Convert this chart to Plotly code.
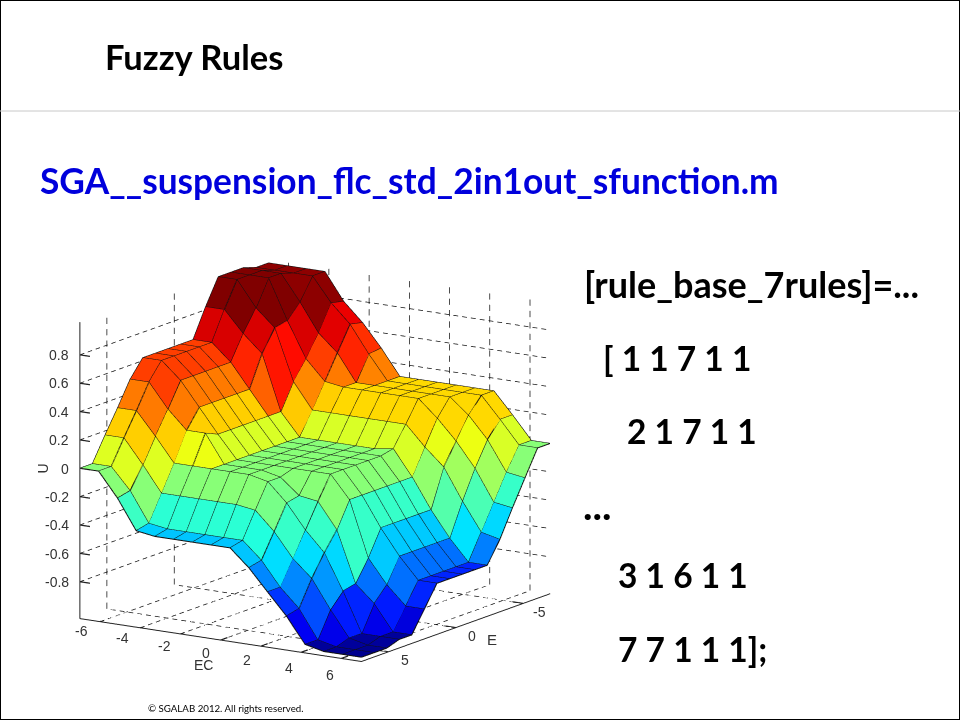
import plotly.graph_objects as go

EC = [-7.0, -6.07, -5.13, -4.2, -3.27, -2.33, -1.4, -0.47, 0.47, 1.4, 2.33, 3.27, 4.2, 5.13, 6.07, 7.0]
E = [7.0, 6.07, 5.13, 4.2, 3.27, 2.33, 1.4, 0.47, -0.47, -1.4, -2.33, -3.27, -4.2, -5.13, -6.07, -7.0]
U_0 = [0, 0, -.17, -.38, -.4, -.4, -.4, -.4, -.4, -.52, -.67, -.82, -1, -1.03, -1.03, -1.03]
U_1 = [0, 0, -.15, -.36, -.38, -.38, -.38, -.38, -.38, -.5, -.67, -.8, -1, -1.03, -1.03, -1.03]
U_2 = [.17, .17, 0, -.18, -.18, -.18, -.18, -.18, -.2, -.33, -.5, -.62, -.82, -1, -1.03, -1.03]
U_3 = [.33, .33, .17, 0, 0, 0, 0, 0, -.03, -.16, -.33, -.47, -.72, -1, -1, -1]
U_4 = [.5, .5, .33, .2, .2, 0, 0, 0, -.03, -.14, -.16, -.34, -.7, -.82, -1, -1]
U_5 = [.62, .62, .5, .33, .16, 0, 0, 0, 0, 0, 0, -.16, -.55, -.72, -.85, -.85]
U_6 = [.62, .62, .5, .33, .16, 0, 0, 0, 0, 0, 0, -.16, -.37, -.55, -.7, -.7]
U_7 = [.62, .62, .5, .33, .16, 0, 0, 0, 0, 0, 0, -.16, -.37, -.55, -.7, -.7]
U_8 = [.62, .62, .5, .33, .16, 0, 0, 0, 0, 0, 0, -.16, -.37, -.55, -.7, -.7]
U_9 = [.62, .62, .5, .33, .16, 0, 0, 0, 0, 0, 0, -.16, -.37, -.55, -.7, -.7]
U_10 = [.82, .82, .67, .55, .16, 0, 0, 0, 0, 0, .02, -.16, -.37, -.55, -.7, -.7]
U_11 = [1, 1, .82, .7, .34, .16, .16, .16, .16, .16, .16, .02, -.1, -.32, -.52, -.55]
U_12 = [1, 1, 1, .72, .47, .33, .31, .31, .31, .31, .31, .19, .05, -.12, -.34, -.36]
U_13 = [1, 1, 1, .82, .62, .5, .31, .31, .31, .31, .31, .31, .2, .05, -.16, -.18]
U_14 = [.97, .97, .97, .97, .8, .67, .48, .31, .31, .31, .31, .31, .31, .16, 0, 0]
U_15 = [.97, .97, .97, .97, .78, .65, .49, .31, .31, .31, .31, .31, .31, .16, 0, 0]
U = [U_0, U_1, U_2, U_3, U_4, U_5, U_6, U_7, U_8, U_9, U_10, U_11, U_12, U_13, U_14, U_15]

EC_TICKS = [-6, -4, -2, 0, 2, 4, 6]
E_TICKS = [5, 0, -5]
U_TICKS = [-0.8, -0.6, -0.4, -0.2, 0, 0.2, 0.4, 0.6, 0.8]
U_LABELS = ["-0.8", "-0.6", "-0.4", "-0.2", "0", "0.2", "0.4", "0.6", "0.8"]
RIGHT_TEXT = ["[rule_base_7rules]=...", "[ 1 1 7 1 1", "2 1 7 1 1", "...", "3 1 6 1 1", "7 7 1 1 1];"]
RIGHT_X = [582, 601, 625, 581, 616, 616]
RIGHT_Y = [284, 358, 431, 505, 575, 649]
RIGHT_SIZE = [36, 33.5, 33.5, 40, 33.5, 33.5]

JET = [[0, "rgb(0,0,143)"], [.125, "rgb(0,0,255)"], [.375, "rgb(0,255,255)"],
       [.625, "rgb(255,255,0)"], [.875, "rgb(255,0,0)"], [1, "rgb(128,0,0)"]]

n, m = len(E), len(EC)
xs, ys, zs, ti, tj, tk, inten = [], [], [], [], [], [], []
for j in range(n):
    for i in range(m):
        xs.append(EC[i]); ys.append(-E[j]); zs.append(U[j][i])
for j in range(n - 1):
    for i in range(m - 1):
        a = j * m + i
        b = a + 1
        c = a + m
        d = c + 1
        val = U[j + 1][i]
        ti += [a, a]; tj += [b, d]; tk += [d, c]; inten += [val, val]

fig = go.Figure()
fig.add_trace(go.Mesh3d(x=xs, y=ys, z=zs, i=ti, j=tj, k=tk, intensity=inten, intensitymode="cell",
                        colorscale=JET, cmin=-1.03, cmax=1, showscale=False, flatshading=True,
                        lighting=dict(ambient=1, diffuse=0, specular=0, fresnel=0), hoverinfo="skip"))

lx, ly, lz = [], [], []
for j in range(n):
    for i in range(m):
        lx.append(EC[i]); ly.append(-E[j]); lz.append(U[j][i])
    lx.append(None); ly.append(None); lz.append(None)
for i in range(m):
    for j in range(n):
        lx.append(EC[i]); ly.append(-E[j]); lz.append(U[j][i])
    lx.append(None); ly.append(None); lz.append(None)
fig.add_trace(go.Scatter3d(x=lx, y=ly, z=lz, mode="lines", line=dict(color="#111", width=2), hoverinfo="skip"))

xmin, xmax, ymin, ymax, zmin, zmax = EC[0], EC[-1], -E[0], -E[-1], -1.06, 1.03
gx, gy, gz = [], [], []

def dashed(p, q, dashes):
    for k in range(dashes):
        for t in (k / dashes, (k + .55) / dashes):
            gx.append(p[0] + (q[0] - p[0]) * t); gy.append(p[1] + (q[1] - p[1]) * t); gz.append(p[2] + (q[2] - p[2]) * t)
        gx.append(None); gy.append(None); gz.append(None)

for v in EC_TICKS:
    dashed((v, ymin, zmin), (v, ymax, zmin), 24)
    dashed((v, ymax, zmin), (v, ymax, zmax), 26)
for v in E_TICKS:
    dashed((xmax, -v, zmin), (xmin, -v, zmin), 32)
    dashed((xmin, -v, zmin), (xmin, -v, zmax), 26)
for v in U_TICKS:
    dashed((xmin, ymin, v), (xmin, ymax, v), 24)
    dashed((xmin, ymax, v), (xmax, ymax, v), 32)
fig.add_trace(go.Scatter3d(x=gx, y=gy, z=gz, mode="lines", line=dict(color="#111", width=1.5), hoverinfo="skip"))

tx, ty, tz = [], [], []
for v in U_TICKS:
    tx += [xmin, xmin + .5, None]; ty += [ymin, ymin, None]; tz += [v, v, None]
for v in EC_TICKS:
    tx += [v, v, None]; ty += [ymin, ymin + .5, None]; tz += [zmin, zmin, None]
for v in E_TICKS:
    tx += [xmax, xmax - .5, None]; ty += [-v, -v, None]; tz += [zmin, zmin, None]
fig.add_trace(go.Scatter3d(x=tx, y=ty, z=tz, mode="lines", line=dict(color="#222", width=2.5), hoverinfo="skip"))

LBL = dict(family="Liberation Sans", size=14, color="#333")
ann = []
for k, v in enumerate(EC_TICKS):
    ann.append(dict(x=v, y=ymin, z=zmin, text=str(v), showarrow=False, xshift=-19 + k * 1.3, yshift=-9 - k * 1.2, font=LBL))
for v in E_TICKS:
    ann.append(dict(x=xmax, y=-v, z=zmin, text=str(v), showarrow=False, xshift=16, yshift=-8, font=LBL))
for v, t in zip(U_TICKS, U_LABELS):
    ann.append(dict(x=xmin, y=ymin, z=v, text=t, showarrow=False, xanchor="right", xshift=-9, font=LBL))
ann.append(dict(x=0, y=ymin, z=zmin, text="EC", showarrow=False, xshift=-17, yshift=-25, font=LBL))
ann.append(dict(x=xmax, y=0, z=zmin, text="E", showarrow=False, xshift=36, yshift=-12, font=dict(LBL, size=15)))
ann.append(dict(x=xmin, y=ymin, z=0, text="U", showarrow=False, xshift=-37, textangle=-90, font=LBL))

ax = dict(showgrid=False, zeroline=False, showbackground=False, showline=True, linecolor="#222", linewidth=2,
          ticks="", showticklabels=False, showspikes=False, title=dict(text=""))
fig.update_layout(
    width=960, height=720, margin=dict(l=0, r=0, t=0, b=0), paper_bgcolor="white", showlegend=False,
    scene=dict(
        domain=dict(x=[.0365, .62], y=[.030, .697]),
        xaxis=dict(ax, range=[xmin, xmax]),
        yaxis=dict(ax, range=[ymin, ymax]),
        zaxis=dict(ax, range=[zmin, zmax]),
        aspectmode="manual", aspectratio=dict(x=1.4, y=1.44, z=1.27),
        camera=dict(projection=dict(type="orthographic"), up=dict(x=0, y=0, z=1), center=dict(x=0, y=0, z=0),
                    eye=dict(x=.531 * 1.35, y=-.815 * 1.35, z=.234 * 1.35)),
        annotations=ann,
    ),
    shapes=[
        dict(type="rect", xref="paper", yref="paper", x0=0, x1=1, y0=0, y1=1, line=dict(color="black", width=2)),
        dict(type="line", xref="paper", yref="paper", x0=0, x1=1, y0=1 - 111 / 720, y1=1 - 111 / 720, line=dict(color="#c8c8c8", width=1)),
    ],
)

def note(text, x, y, size, color="black", bold=True):
    fig.add_annotation(text=f"<b>{text}</b>" if bold else text, xref="paper", yref="paper", x=x / 960, y=1 - y / 720,
                       xanchor="left", yanchor="middle", showarrow=False, font=dict(family="Lato", size=size, color=color))

note("Fuzzy Rules", 103, 57, 34.5)
note("SGA__suspension_flc_std_2in1out_sfunction.m", 38, 180, 35.3, color="#0000dc")
for t, x, y, s in zip(RIGHT_TEXT, RIGHT_X, RIGHT_Y, RIGHT_SIZE):
    note(t, x, y, s)
note("© SGALAB 2012. All rights reserved.", 146, 708, 9.7, bold=False)

fig.write_html("out.html", config=dict(displayModeBar=False),
               post_script="document.body.style.margin='0';document.body.style.overflow='hidden';")
